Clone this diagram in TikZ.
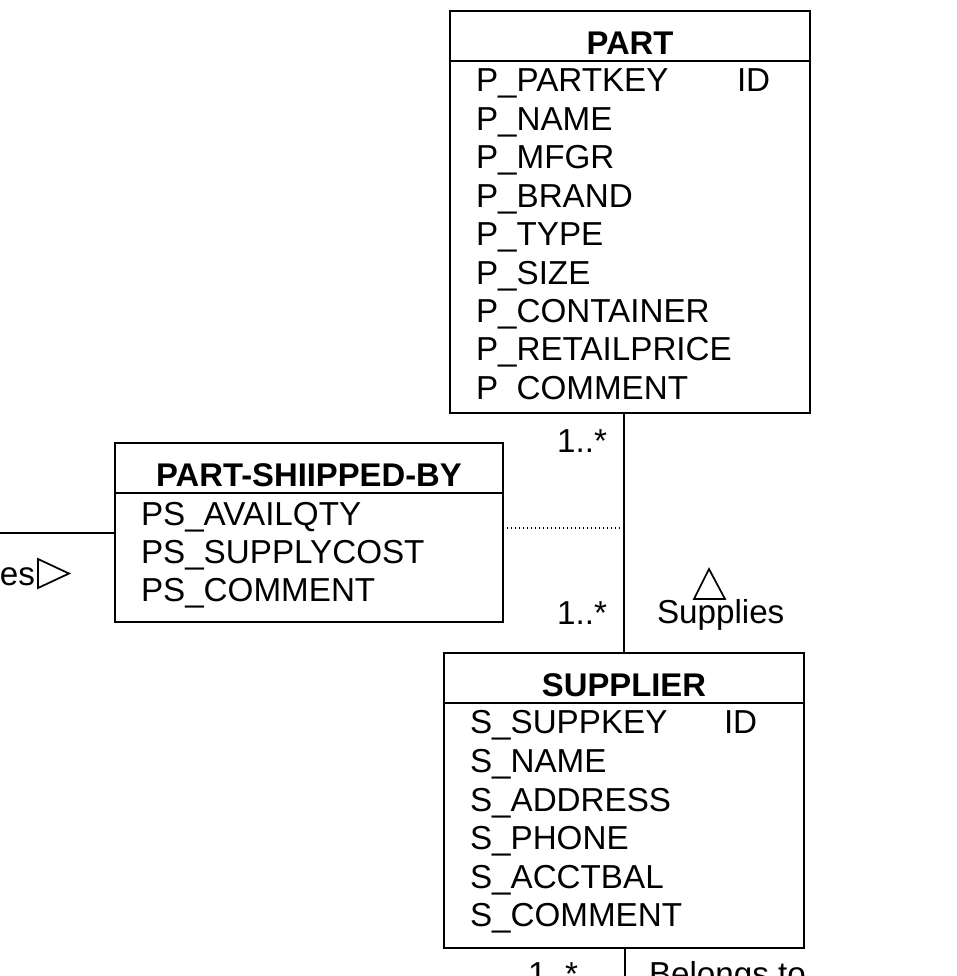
\documentclass[tikz,border=0pt]{standalone}
\usepackage{fontspec}
\setmainfont{Liberation Sans}
\begin{document}
\begin{tikzpicture}[x=0.75pt,y=-0.75pt,
  every node/.style={inner sep=0pt, outer sep=0pt, font=\fontsize{24.9pt}{28pt}\selectfont},
  box/.style={draw, line width=1.5pt, anchor=north west, inner sep=0pt},
  attr/.style={anchor=base west},
  ttl/.style={anchor=base, font=\fontsize{24.6pt}{28pt}\selectfont\bfseries},
  lbl/.style={anchor=base west},
  conn/.style={line width=1.5pt},
  tri/.style={line width=1.3pt, line join=miter}]
\clip (0,0) rectangle (957,976);
% PART
\node[box, minimum width=270pt, minimum height=301.5pt] (part) at (450,11) {};
\draw[line width=1.5pt] (450,61) -- (810,61);
\node[ttl] (parttitle) at (630,54) {PART};
\node[attr] (p1) at (476,91.5) {P\_PARTKEY};
\node[attr] (pid) at (737,91.5) {ID};
\node[attr] (p2) at (476,130) {P\_NAME};
\node[attr] (p3) at (476,168) {P\_MFGR};
\node[attr] (p4) at (476,207) {P\_BRAND};
\node[attr] (p5) at (476,245) {P\_TYPE};
\node[attr] (p6) at (476,284) {P\_SIZE};
\node[attr] (p7) at (476,322) {P\_CONTAINER};
\node[attr] (p8) at (476,360.5) {P\_RETAILPRICE};
\node[attr] (p9) at (476,399) {P\hphantom{\_}COMMENT};
% PART-SHIIPPED-BY
\node[box, minimum width=291pt, minimum height=134.25pt] (psb) at (115,443) {};
\draw[line width=1.5pt] (115,493) -- (503,493);
\node[ttl] (psbtitle) at (309,486) {PART-SHIIPPED-BY};
\node[attr] (ps1) at (141,525) {PS\_AVAILQTY};
\node[attr] (ps2) at (141,563) {PS\_SUPPLYCOST};
\node[attr] (ps3) at (141,601) {PS\_COMMENT};
% SUPPLIER
\node[box, minimum width=270pt, minimum height=221.25pt] (sup) at (444,653) {};
\draw[line width=1.5pt] (444,703) -- (804,703);
\node[ttl] (suptitle) at (624,696) {SUPPLIER};
\node[attr] (s1) at (470,733) {S\_SUPPKEY};
\node[attr] (sid) at (724,733) {ID};
\node[attr] (s2) at (470,772) {S\_NAME};
\node[attr] (s3) at (470,811) {S\_ADDRESS};
\node[attr] (s4) at (470,849) {S\_PHONE};
\node[attr] (s5) at (470,888) {S\_ACCTBAL};
\node[attr] (s6) at (470,926) {S\_COMMENT};
% connectors
\draw[conn] (sup.north |- part.south) -- (sup.north);
\coordinate (dm) at (624,528);
\draw[line width=1pt, dash pattern=on 1pt off 2pt] (psb.east |- dm) -- (dm);
\coordinate (lft) at (0,533);
\draw[conn] (lft) -- (lft -| psb.west);
\coordinate (bot) at (625,980);
\draw[conn] (sup.south -| bot) -- (bot);
% labels
\node[anchor=base east] (m1) at (607,452) {1..*};
\node[anchor=base east] (m2) at (607,624) {1..*};
\node[anchor=base east] (m3) at (578,985) {1..*};
\node[lbl] (supplies) at (657,623) {Supplies};
\draw[tri] (709,569) -- (725,599) -- (694,599) -- cycle;
\node[anchor=base east] (es) at (35,585) {es};
\draw[tri] (38,559) -- (69,573.5) -- (38,588) -- cycle;
\node[lbl] (belongs) at (649,985) {Belongs to};
\end{tikzpicture}
\end{document}
